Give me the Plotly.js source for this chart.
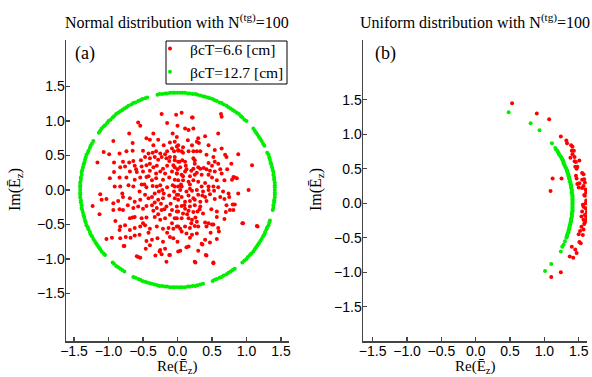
<!DOCTYPE html>
<html>
<head>
<meta charset="utf-8">
<script src="https://cdn.plot.ly/plotly-3.0.1.min.js"></script>
<style>html,body{margin:0;padding:0;background:#fff;}#chart{width:592px;height:377px;}</style>
</head>
<body>
<div id="chart"></div>
<script>
// ---------- data ----------
const seriesNames = ["βcT=6.6 [cm]", "βcT=12.7 [cm]"];
const panelTitles = ["Normal distribution with N<sup>(tg)</sup>=100", "Uniform distribution with N<sup>(tg)</sup>=100"];
const panelLabels = ["(a)", "(b)"];
const tickVals = [-1.5, -1.0, -0.5, 0.0, 0.5, 1.0, 1.5];
const tickText = ["−1.5", "−1.0", "−0.5", "0.0", "0.5", "1.0", "1.5"];

// (a) normal distribution, βcT = 6.6 cm : [Re, Im]
const normalRed = [
 [-0.23,1.10],[-0.02,1.09],[0.06,1.12],[0.22,1.05],[0.63,1.10],[0.64,1.06],
 [-0.57,0.98],[-0.54,0.93],[-0.15,0.97],[-0.70,0.82],[-0.35,0.82],[-0.93,0.71],[-0.40,0.73],[-0.28,0.73],
 [-0.07,0.82],[-0.01,0.77],[-0.11,0.69],[-0.04,0.70],[-1.07,0.55],[-0.99,0.52],[-0.84,0.53],[-0.74,0.56],
 [-0.65,0.57],[-0.50,0.57],[-0.42,0.53],[-0.36,0.54],[-0.31,0.56],[-0.25,0.53],[-0.18,0.52],[-0.15,0.56],
 [-0.08,0.60],[-0.05,0.56],[-0.01,0.63],[0.01,0.57],[-1.16,0.40],[-0.92,0.40],[-0.79,0.41],[-0.64,0.42],
 [-0.53,0.43],[-0.47,0.48],[-0.40,0.46],[-0.33,0.48],[-0.28,0.44],[-0.23,0.48],[-0.16,0.46],[-0.11,0.48],
 [-0.04,0.43],[0.03,0.41],[-0.83,0.33],[-0.76,0.34],[-0.62,0.35],[-0.52,0.34],[-0.45,0.36],[-0.35,0.33],
 [-0.30,0.35],[-0.21,0.31],[-0.15,0.35],[-0.06,0.36],[0.00,0.30],[-0.92,0.26],[-0.69,0.27],[-0.59,0.26],
 [-0.50,0.27],[-0.40,0.28],[-0.31,0.24],[-0.25,0.27],[-0.18,0.24],[-0.08,0.27],[-0.01,0.24],[-0.98,0.17],
 [-0.84,0.18],[-0.74,0.18],[-0.62,0.15],[-0.54,0.18],[-0.45,0.19],[-0.37,0.14],[-0.31,0.17],[-0.21,0.15],
 [-0.12,0.18],[-0.04,0.15],[-0.91,0.05],[-0.83,0.05],[-0.71,0.07],[-0.64,0.05],[-0.52,0.08],[-0.45,0.04],
 [-0.36,0.06],[-0.25,0.07],[-0.15,0.04],[-0.07,0.07],[0.01,0.05],
 [0.21,1.05],[0.00,0.93],[0.11,0.89],[0.16,0.87],[0.23,0.89],[0.59,0.82],[0.30,0.75],[0.28,0.70],
 [0.31,0.68],[0.21,0.65],[0.01,0.65],[0.01,0.58],[0.06,0.56],[0.08,0.54],[0.16,0.56],[0.23,0.56],
 [0.28,0.56],[0.33,0.56],[0.42,0.51],[0.54,0.58],[0.64,0.60],[0.69,0.51],[0.71,0.48],[0.88,0.52],
 [-0.04,0.48],[0.01,0.41],[0.07,0.43],[0.11,0.41],[0.23,0.46],[0.25,0.43],[0.52,0.48],[0.54,0.41],
 [0.45,0.39],[0.59,0.38],[0.72,0.30],[1.08,0.36],[-0.04,0.33],[0.04,0.33],[0.13,0.30],[0.23,0.31],
 [0.30,0.33],[0.33,0.31],[0.42,0.30],[0.47,0.28],[0.54,0.27],[0.64,0.24],[0.83,0.18],[0.86,0.17],
 [0.79,0.15],[-0.01,0.24],[0.06,0.22],[0.11,0.27],[0.18,0.20],[0.25,0.22],[0.35,0.22],[0.45,0.22],
 [0.50,0.18],[0.57,0.14],[0.68,0.14],[0.01,0.14],[0.08,0.14],[0.16,0.12],[0.23,0.14],[0.30,0.12],
 [0.40,0.10],[0.45,0.05],[0.59,0.04],[-0.04,0.05],[0.06,0.05],[0.18,0.02],[0.52,0.05],
 [1.03,0.00],[0.81,0.19],[0.75,-0.10],[0.94,-0.48],[1.15,-0.52],[0.80,-0.21],[0.83,-0.21],
 [-1.12,-0.06],[-1.10,-0.14],[-1.03,-0.13],[-0.93,-0.19],[-0.86,-0.16],[-0.79,-0.10],[-0.69,-0.12],
 [-0.62,-0.17],[-0.54,-0.14],[-0.47,-0.07],[-0.42,-0.12],[-0.37,-0.10],[-0.33,-0.05],[-0.28,-0.14],
 [-0.21,-0.12],[-0.12,-0.08],[-0.04,-0.12],[0.01,-0.07],[-1.23,-0.23],[-1.13,-0.35],[-0.93,-0.29],
 [-0.84,-0.28],[-0.79,-0.29],[-0.64,-0.26],[-0.57,-0.24],[-0.50,-0.27],[-0.45,-0.23],[-0.37,-0.22],
 [-0.30,-0.26],[-0.23,-0.29],[-0.16,-0.24],[-0.08,-0.29],[-0.01,-0.31],[-0.69,-0.41],[-0.62,-0.39],
 [-0.52,-0.41],[-0.45,-0.40],[-0.33,-0.39],[-0.25,-0.43],[-0.18,-0.41],[-0.11,-0.36],[-0.04,-0.41],
 [-0.83,-0.53],[-0.84,-0.58],[-0.76,-0.51],[-0.69,-0.58],[-0.62,-0.55],[-0.54,-0.53],[-0.47,-0.51],
 [-0.40,-0.56],[-0.30,-0.53],[-0.21,-0.56],[-0.13,-0.55],[-0.06,-0.56],[0.01,-0.53],[-1.03,-0.71],
 [-0.95,-0.69],[-0.83,-0.70],[-0.75,-0.68],[-0.68,-0.69],[-0.62,-0.66],[-0.55,-0.65],[-0.45,-0.74],
 [-0.37,-0.72],[-0.29,-0.70],[-0.21,-0.75],[-0.11,-0.68],[-0.06,-0.70],[-0.78,-0.81],[-0.46,-0.85],
 [-0.40,-0.80],[-0.25,-0.87],[-0.18,-0.85],[-0.12,-0.94],[-0.57,-0.97],[-0.54,-0.98],[-0.16,-1.04],
 [-0.59,-0.96],[-0.26,-0.89],[-0.23,-0.93],[-0.11,-0.94],[0.01,-0.89],[0.13,-0.83],[0.25,-1.04],
 [0.35,-0.78],[0.41,-0.94],[0.47,-0.76],[0.52,-1.05],[-0.77,-0.81],
 [0.04,0.00],[0.13,-0.02],[0.21,-0.01],[0.28,0.00],[0.37,-0.02],[0.45,0.00],[0.53,-0.01],[0.74,-0.05],
 [-0.01,-0.07],[0.06,-0.10],[0.16,-0.08],[0.23,-0.12],[0.30,-0.07],[0.40,-0.10],[0.47,-0.06],[0.62,-0.10],
 [0.01,-0.14],[0.11,-0.17],[0.18,-0.16],[0.25,-0.14],[0.33,-0.17],[0.42,-0.16],[0.54,-0.13],[0.68,-0.13],
 [0.76,-0.29],[0.81,-0.29],[-0.01,-0.24],[0.06,-0.23],[0.11,-0.27],[0.18,-0.24],[0.25,-0.22],[0.33,-0.24],
 [0.49,-0.28],[0.57,-0.31],[0.71,-0.22],[0.01,-0.31],[0.08,-0.34],[0.16,-0.30],[0.23,-0.32],[0.29,-0.31],
 [0.37,-0.34],[0.57,-0.39],[-0.01,-0.41],[0.06,-0.41],[0.16,-0.41],[0.21,-0.43],[0.28,-0.46],[0.40,-0.47],
 [0.45,-0.48],[0.52,-0.50],[0.59,-0.55],[0.68,-0.42],[0.95,-0.48],[1.16,-0.53],[-0.01,-0.53],[0.04,-0.56],
 [0.11,-0.53],[0.18,-0.55],[0.25,-0.52],[0.30,-0.53],[0.42,-0.53],[0.50,-0.50],[0.06,-0.60],[0.13,-0.63],
 [0.21,-0.65],[0.28,-0.63],[0.18,-0.69],[0.40,-0.72],[0.57,-0.71],[0.36,-0.79],[0.16,-0.82],[0.04,-0.88],
 [0.42,-0.95],[0.26,-1.05],[0.52,-1.06],
 [-0.30,0.05],[-0.27,-0.02],[-0.22,0.00],[-0.20,-0.05],[-0.33,-0.18],[-0.35,-0.30],[-0.28,-0.35],
 [-0.24,-0.20],[-0.19,-0.28],[-0.10,-0.20],[-0.05,-0.02],[0.05,0.08],[0.08,0.20],[0.12,0.35],[0.18,0.08],
 [0.20,0.28],[0.25,0.38],[0.28,0.25],[0.35,0.05],[0.38,0.32],[0.10,-0.22],[0.14,-0.35],[0.20,-0.48],
 [0.26,-0.40],[0.32,-0.28],[0.36,-0.08],[-0.40,0.38],[-0.42,0.20],[-0.48,0.08],[-0.55,-0.02],[-0.60,0.30],
 [-0.65,-0.40],[-0.50,-0.48],[-0.42,-0.62],[-0.15,-0.62],[-0.08,-0.48],[0.00,-0.75],[0.08,0.62],[0.15,0.72],
 [-0.20,0.65],[-0.12,0.42],[-0.35,0.65],[-0.45,0.75],[0.45,0.65],[0.50,0.35],[0.62,0.30],[0.66,-0.02],
 [0.70,-0.32],[0.60,-0.60],[0.48,-0.62],[-0.70,0.40],[-0.80,-0.05],[-0.90,-0.45],[-0.72,-0.22],[0.78,0.38],
 [0.88,-0.05],[0.30,-0.88],[-0.32,-0.95],[-0.65,0.68],[0.40,0.78]
];

// (a) normal distribution, βcT = 12.7 cm : [Re, Im]  (ring of radius ~1.41)
const normalGreen = [
 [1.41,0.00],[1.41,0.07],[1.40,0.15],[1.39,0.22],[1.38,0.29],[1.36,0.37],[1.34,0.44],[1.32,0.51],[1.26,0.64],
 [1.22,0.71],[1.18,0.77],[1.14,0.83],[1.10,0.89],[1.00,1.00],[0.94,1.05],[0.89,1.10],[0.83,1.14],
 [0.77,1.18],[0.71,1.22],[0.64,1.26],[0.57,1.29],[0.51,1.32],[0.44,1.34],[0.37,1.36],[0.29,1.38],[0.22,1.39],
 [0.15,1.40],[0.07,1.41],
 [0.00,1.41],[-0.07,1.41],[-0.15,1.40],[-0.22,1.39],[-0.29,1.38],[-0.44,1.34],[-0.51,1.32],
 [-0.57,1.29],[-0.64,1.26],[-0.71,1.22],[-0.77,1.18],[-0.83,1.14],[-0.89,1.10],[-0.94,1.05],[-1.00,1.00],
 [-1.05,0.94],[-1.10,0.89],[-1.14,0.83],[-1.22,0.71],[-1.26,0.64],[-1.29,0.57],[-1.32,0.51],
 [-1.34,0.44],[-1.36,0.37],[-1.38,0.29],[-1.39,0.22],[-1.40,0.15],[-1.41,0.07],
 [-1.41,0.00],[-1.41,-0.07],[-1.40,-0.15],[-1.39,-0.22],[-1.38,-0.29],[-1.36,-0.37],[-1.34,-0.44],[-1.32,-0.51],
 [-1.29,-0.57],[-1.26,-0.64],[-1.22,-0.71],[-1.18,-0.77],[-1.14,-0.83],[-1.10,-0.89],[-1.05,-0.94],
 [-0.94,-1.05],[-0.89,-1.10],[-0.83,-1.14],[-0.77,-1.18],[-0.64,-1.26],[-0.57,-1.29],[-0.51,-1.32],
 [-0.44,-1.34],[-0.37,-1.36],[-0.29,-1.38],[-0.22,-1.39],[-0.15,-1.40],[-0.07,-1.41],
 [0.00,-1.41],[0.07,-1.41],[0.15,-1.40],[0.22,-1.39],[0.29,-1.38],[0.37,-1.36],[0.51,-1.32],
 [0.57,-1.29],[0.64,-1.26],[0.71,-1.22],[0.77,-1.18],[0.83,-1.14],[0.94,-1.05],[1.00,-1.00],
 [1.05,-0.94],[1.10,-0.89],[1.14,-0.83],[1.18,-0.77],[1.22,-0.71],[1.26,-0.64],[1.29,-0.57],[1.32,-0.51],
 [1.34,-0.44],[1.38,-0.29],[1.39,-0.22],[1.40,-0.15],[1.41,-0.07],
 [1.41,0.04],[1.41,0.11],[1.40,0.18],[1.39,0.26],[1.37,0.33],[1.35,0.40],[1.33,0.47],[1.30,0.54],
 [1.24,0.67],[1.20,0.74],[1.16,0.80],[1.12,0.86],[0.97,1.02],[0.92,1.07],[0.86,1.12],
 [0.80,1.16],[0.74,1.20],[0.67,1.24],[0.61,1.27],[0.54,1.30],[0.47,1.33],[0.40,1.35],[0.33,1.37],[0.26,1.39],
 [0.18,1.40],[0.11,1.41],[0.04,1.41],
 [-1.41,0.04],[-1.41,0.11],[-1.40,0.18],[-1.39,0.26],[-1.37,0.33],[-1.35,0.40],[-1.33,0.47],[-1.30,0.54],
 [-1.27,0.61],[-1.24,0.67],[-1.12,0.86],[-1.07,0.92],[-1.02,0.97],[-0.97,1.02],[-0.92,1.07],
 [-0.86,1.12],[-0.80,1.16],[-0.74,1.20],[-0.67,1.24],[-0.61,1.27],[-0.54,1.30],[-0.47,1.33],
 [-0.26,1.39],[-0.18,1.40],[-0.11,1.41],[-0.04,1.41],
 [-1.41,-0.04],[-1.41,-0.11],[-1.40,-0.18],[-1.39,-0.26],[-1.37,-0.33],[-1.35,-0.40],[-1.33,-0.47],[-1.30,-0.54],
 [-1.27,-0.61],[-1.24,-0.67],[-1.20,-0.74],[-1.16,-0.80],[-1.12,-0.86],[-1.07,-0.92],
 [-0.92,-1.07],[-0.86,-1.12],[-0.80,-1.16],[-0.61,-1.27],[-0.54,-1.30],[-0.47,-1.33],
 [-0.40,-1.35],[-0.33,-1.37],[-0.26,-1.39],[-0.18,-1.40],[-0.11,-1.41],[-0.04,-1.41],
 [1.41,-0.04],[1.41,-0.11],[1.40,-0.18],[1.39,-0.26],[1.33,-0.47],[1.30,-0.54],
 [1.27,-0.61],[1.24,-0.67],[1.20,-0.74],[1.16,-0.80],[1.12,-0.86],[1.07,-0.92],[1.02,-0.97],[0.97,-1.02],
 [0.80,-1.16],[0.74,-1.20],[0.67,-1.24],[0.61,-1.27],[0.54,-1.30],
 [0.33,-1.37],[0.26,-1.39],[0.18,-1.40],[0.11,-1.41],[0.04,-1.41]
];

// (b) uniform distribution, βcT = 6.6 cm : [Re, Im]
const uniformRed = [
 [0.53,1.45],[0.89,1.30],[1.07,1.22],[1.24,0.97],[1.32,0.91],[1.33,0.87],[1.39,0.84],[1.41,0.82],
 [1.40,0.76],[1.43,0.76],[1.41,0.71],[1.44,0.67],[1.38,0.66],[1.44,0.61],[1.51,0.62],[1.46,0.60],
 [1.45,0.53],[1.48,0.53],[1.47,0.50],[1.55,0.44],[1.57,0.42],[1.46,0.40],[1.58,0.35],[1.55,0.34],
 [1.47,0.36],[1.59,0.30],[1.51,0.29],[1.48,0.28],[1.57,0.25],[1.50,0.23],[1.55,0.22],[1.60,0.20],
 [1.61,0.16],[1.58,0.12],[1.59,0.11],[1.61,0.04],[1.12,0.36],[1.25,0.36],[1.09,0.18],[1.57,-0.05],
 [1.60,-0.07],[1.55,-0.12],[1.62,-0.13],[1.59,-0.17],[1.54,-0.19],[1.61,-0.20],[1.57,-0.24],[1.61,-0.25],
 [1.59,-0.28],[1.54,-0.34],[1.57,-0.38],[1.52,-0.40],[1.50,-0.45],[1.56,-0.46],[1.51,-0.56],[1.53,-0.58],
 [1.40,-0.63],[1.45,-0.67],[1.47,-0.72],[1.37,-0.77],[1.42,-0.79],[1.24,-1.00],[1.10,-1.07],[1.60,0.00],
 [1.56,-0.02],[1.62,-0.09],[1.58,-0.30]
];

// (b) uniform distribution, βcT = 12.7 cm : [Re, Im]
const uniformGreen = [
 [0.48,1.32],[0.80,1.16],[0.93,1.06],[1.11,0.87],[1.16,0.80],[1.19,0.76],[1.21,0.72],[1.24,0.68],
 [1.26,0.64],[1.28,0.60],[1.29,0.56],[1.31,0.52],[1.33,0.48],[1.34,0.44],[1.35,0.40],[1.36,0.36],
 [1.37,0.32],[1.38,0.28],[1.39,0.24],[1.40,0.20],[1.40,0.16],[1.41,0.12],[1.41,0.08],[1.41,0.04],
 [1.41,0.00],[1.41,-0.04],[1.41,-0.08],[1.41,-0.12],[1.40,-0.16],[1.40,-0.20],[1.39,-0.24],[1.38,-0.28],
 [1.37,-0.32],[1.36,-0.36],[1.35,-0.40],[1.34,-0.44],[1.33,-0.48],[1.30,-0.55],[1.28,-0.60],[1.26,-0.63],
 [1.24,-0.70],[1.10,-0.88],[1.01,-0.98],
 [1.17,0.78],[1.20,0.74],[1.22,0.70],[1.25,0.66],[1.27,0.62],[1.28,0.58],[1.30,0.54],[1.32,0.50],
 [1.33,0.46],[1.35,0.42],[1.36,0.38],[1.37,0.34],[1.38,0.30],[1.39,0.26],[1.39,0.22],[1.40,0.18],
 [1.40,0.14],[1.41,0.10],[1.41,0.06],[1.41,0.02],[1.41,-0.02],[1.41,-0.06],[1.41,-0.10],[1.40,-0.14],
 [1.40,-0.18],[1.39,-0.22],[1.39,-0.26],[1.38,-0.30],[1.37,-0.34],[1.36,-0.38],[1.35,-0.42],[1.33,-0.46],
 [1.32,-0.50]
];

// ---------- styling ----------
const RED = "#ff0000", GREEN = "#00ee00";
const serif = "Liberation Serif, Times New Roman, serif";
const sans = "Liberation Sans, Arial, sans-serif";
const W = 592, H = 377;
const px = v => v / W, py = v => 1 - v / H;

function trace(pts, name, color, size, xa, ya, showlegend) {
  return {
    type: "scatter", mode: "markers", name: name,
    x: pts.map(p => p[0]), y: pts.map(p => p[1]),
    xaxis: xa, yaxis: ya, showlegend: showlegend,
    marker: {color: color, size: size, line: {width: 0}},
    hoverinfo: "skip"
  };
}

const data = [
  trace(normalRed, seriesNames[0], RED, 4, "x", "y", true),
  trace(normalGreen, seriesNames[1], GREEN, 4, "x", "y", true),
  trace(uniformGreen, seriesNames[1], GREEN, 4, "x2", "y2", false),
  trace(uniformRed, seriesNames[0], RED, 4, "x2", "y2", false)
];

function axis(domain, range, anchor, standoff) {
  return {
    domain: domain, range: range, anchor: anchor,
    showgrid: false, zeroline: false, showline: true,
    linecolor: "#444", linewidth: 1.5, mirror: false,
    ticks: "inside", ticklen: 4, tickwidth: 1.2, tickcolor: "#444",
    tickmode: "array", tickvals: tickVals, ticktext: tickText,
    tickfont: {family: sans, size: 14, color: "#000"},
    ticklabelstandoff: standoff,
    fixedrange: true
  };
}

function ann(text, x, y, size, extra) {
  return Object.assign({
    text: text, x: px(x), y: py(y), xref: "paper", yref: "paper",
    xanchor: "center", yanchor: "middle", showarrow: false,
    font: {family: serif, size: size, color: "#000"}
  }, extra || {});
}

const yDom = [py(341), py(40)];
const layout = {
  width: W, height: H,
  margin: {l: 0, r: 0, t: 0, b: 0},
  paper_bgcolor: "#fff", plot_bgcolor: "#fff",
  showlegend: true,
  xaxis: axis([px(66), px(289)], [-1.616, 1.616], "y", -3),
  yaxis: axis(yDom, [-2.188, 2.174], "x", -3),
  xaxis2: axis([px(363), px(587)], [-1.641, 1.621], "y2", -3),
  yaxis2: axis(yDom, [-1.996, 2.367], "x2", -3),
  legend: {
    x: px(150), y: py(32), xanchor: "left", yanchor: "top",
    bgcolor: "rgba(0,0,0,0)", borderwidth: 0,
    font: {family: serif, size: 15.5, color: "#000"},
    itemwidth: 30, tracegroupgap: 0
  },
  shapes: [
    {type: "rect", xref: "paper", yref: "paper", x0: px(166), x1: px(287), y0: py(84), y1: py(41),
     line: {color: "#000", width: 1}, fillcolor: "#fff", layer: "below"}
  ],
  annotations: [
    ann(panelTitles[0], 177, 21, 16),
    ann(panelTitles[1], 475, 21, 16),
    ann(panelLabels[0], 85, 53, 18),
    ann(panelLabels[1], 385, 53, 18),
    ann("Re(Ē<sub>z</sub>)", 177, 367, 15),
    ann("Re(Ē<sub>z</sub>)", 475, 367, 15),
    ann("Im(Ē<sub>z</sub>)", 15, 190, 16, {textangle: -90}),
    ann("Im(Ē<sub>z</sub>)", 316, 190, 16, {textangle: -90})
  ]
};

Plotly.newPlot("chart", data, layout, {displayModeBar: false, staticPlot: true});
</script>
</body>
</html>
